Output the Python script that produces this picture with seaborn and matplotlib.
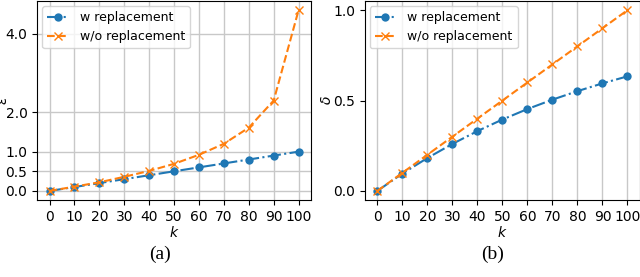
import numpy as np
import pandas as pd
import matplotlib
matplotlib.use("Agg")
import matplotlib.pyplot as plt
import seaborn as sns

k = [0, 10, 20, 30, 40, 50, 60, 70, 80, 90, 100]

# (a) epsilon
eps_w = [0.0, 0.1, 0.2, 0.3, 0.4, 0.5, 0.6, 0.7, 0.8, 0.9, 1.0]
eps_wo = [0.0, 0.11, 0.22, 0.36, 0.51, 0.69, 0.92, 1.2, 1.61, 2.3, 4.6]

# (b) delta
delta_w = [0.0, 0.096, 0.182, 0.26, 0.331, 0.395, 0.453, 0.505, 0.552, 0.595, 0.634]
delta_wo = [0.0, 0.1, 0.2, 0.3, 0.4, 0.5, 0.6, 0.7, 0.8, 0.9, 1.0]

eps_ticks = [0.0, 0.5, 1.0, 2.0, 4.0]
delta_ticks = [0.0, 0.5, 1.0]

labels = ["w replacement", "w/o replacement"]

plt.rcParams["font.family"] = ["DejaVu Sans"]
plt.rcParams["font.size"] = 10

fig = plt.figure(figsize=(6.4, 2.77), dpi=100)
ax1 = fig.add_axes([0.058, 0.278, 0.428, 0.718])
ax2 = fig.add_axes([0.570, 0.278, 0.43, 0.718])

pal = sns.color_palette("tab10")


def draw(ax, y_w, y_wo, ylab, yticks, hgrid, ypad):
    df = pd.DataFrame({"k": k * 2, "v": y_w + y_wo,
                       "s": [labels[0]] * len(k) + [labels[1]] * len(k)})
    sns.lineplot(data=df, x="k", y="v", hue="s", palette=pal[:2], ax=ax,
                 linewidth=1.5, legend=False)
    # styles per series
    styles = [("-.", "o"), ("--", "x")]
    for line, (ls, mk), c, lab in zip(ax.get_lines(), styles, pal[:2], labels):
        line.set_linestyle(ls)
        line.set_marker(mk)
        line.set_markersize(6)
        line.set_markerfacecolor(c)
        line.set_markeredgecolor(c)
        line.set_markeredgewidth(1.0 if mk == "x" else 0)
        line.set_label(lab)
    ax.set_xticks(k)
    ax.set_yticks(yticks)
    ax.set_yticklabels([f"{t:.1f}" for t in yticks])
    ax.set_xlabel("$k$", labelpad=1)
    ax.set_ylabel(ylab, labelpad=ypad)
    ax.grid(True, axis="x", color="#c8c8c8", linewidth=1)
    if hgrid:
        ax.grid(True, axis="y", color="#c8c8c8", linewidth=1)
    ax.set_axisbelow(True)
    ax.legend(loc="upper left", fontsize=9, framealpha=0.8,
              borderaxespad=0.4, handlelength=1.7, handletextpad=0.9)


draw(ax1, eps_w, eps_wo, r"$\epsilon$", eps_ticks, True, -3)
draw(ax2, delta_w, delta_wo, r"$\delta$", delta_ticks, False, -1)

fig.text(0.25, 0.08, "(a)", family="Liberation Serif", fontsize=14, ha="center", va="center")
fig.text(0.77, 0.08, "(b)", family="Liberation Serif", fontsize=14, ha="center", va="center")

fig.savefig("out.png", dpi=100)
